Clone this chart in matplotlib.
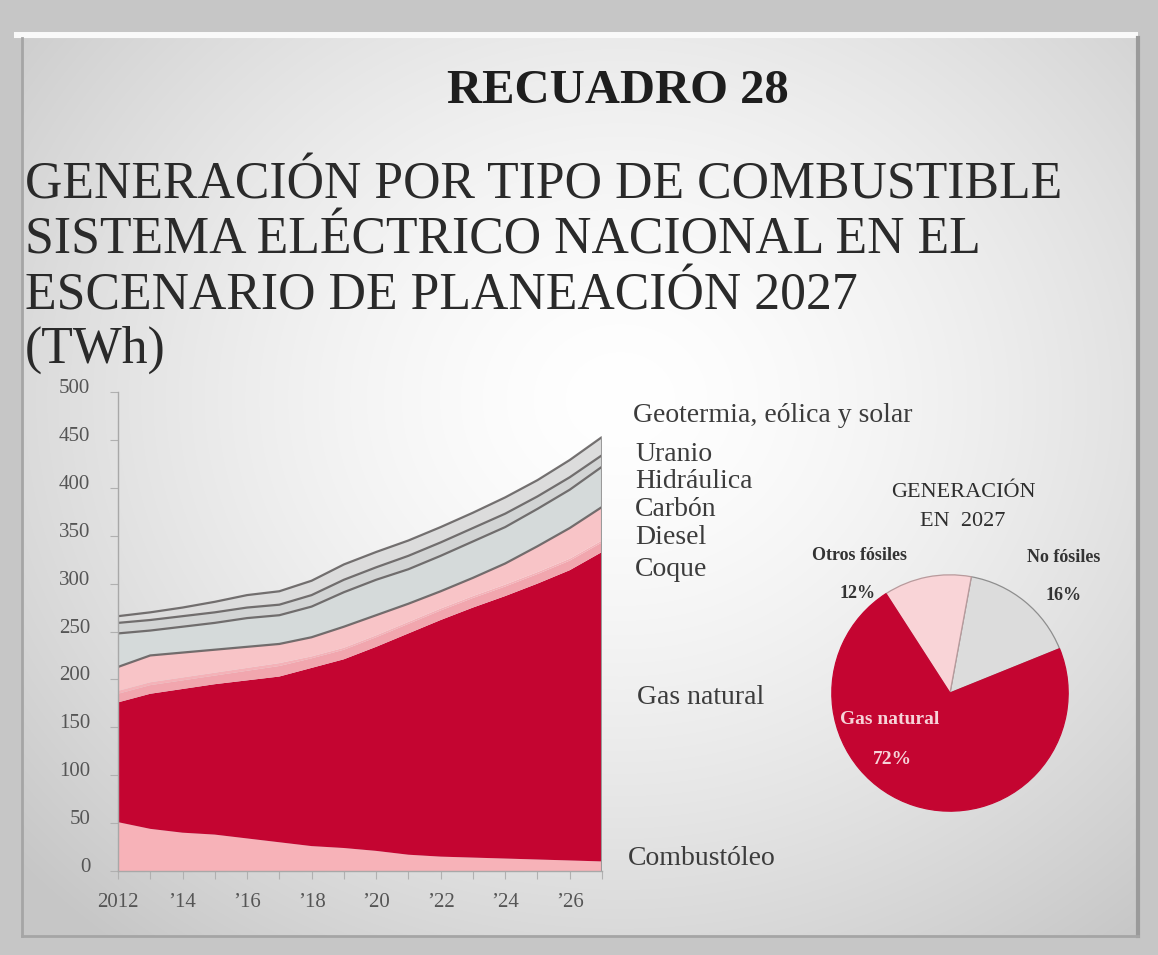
import numpy as np
import matplotlib
matplotlib.use("Agg")
import matplotlib.pyplot as plt
import matplotlib.transforms as mtransforms

# ---------------- data ----------------
years = list(range(2012, 2028))
combustoleo = [51, 44, 40, 38, 34, 30, 26, 24, 21, 17, 15, 14, 13, 12, 11, 10]
gas_natural = [125, 141, 150, 157, 165, 173, 186, 197, 213, 231, 247, 261, 274, 288, 303, 323]
coque = [9, 9, 9, 9, 10, 11, 10, 10, 10, 10, 10, 10, 10, 10, 10, 10]
diesel = [3, 3, 3, 3, 3, 3, 2, 2, 2, 2, 2, 2, 2, 2, 2, 2]
carbon = [25, 28, 26, 24, 22, 20, 20, 22, 21, 19, 18, 19, 22, 27, 32, 35]
hidraulica = [35, 26, 27, 28, 30, 30, 32, 36, 37, 36, 37, 38, 38, 39, 40, 42]
uranio = [11, 11, 11, 11, 11, 11, 12, 13, 13, 14, 14, 14, 14, 13, 13, 12]
geotermia = [7, 8, 9, 11, 13, 14, 15, 16, 16, 16, 16, 16, 17, 17, 18, 19]

series_names = ["Combustóleo", "Gas natural", "Coque", "Diesel", "Carbón",
                "Hidráulica", "Uranio", "Geotermia, eólica y solar"]

y_ticks = [0, 50, 100, 150, 200, 250, 300, 350, 400, 450, 500]
x_tick_labels = ["2012", "", "’14", "", "’16", "", "’18", "", "’20", "",
                 "’22", "", "’24", "", "’26", ""]

pie_labels = ["No fósiles", "Otros fósiles", "Gas natural"]
pie_values = [16, 12, 72]

W, H = 1158, 955
fig = plt.figure(figsize=(W / 100, H / 100), dpi=100)

def fx(px):
    return px / W

def fy(py):
    return 1 - py / H

# ---------------- background ----------------
bg = fig.add_axes([0, 0, 1, 1], zorder=-10)
yy, xx = np.mgrid[0:H, 0:W]
d = np.sqrt(((xx - 620) / 620.0) ** 2 + ((yy - 400) / 540.0) ** 2)
d = np.clip(d, 0, 1.3)
inten = 1 - 0.15 * d ** 1.5
img = np.stack([inten, inten, inten], axis=-1)
frame = (xx < 22) | (xx > 1137) | (yy < 38) | (yy > 936)
img[frame] = 0.78
img[(yy >= 33) & (yy <= 38) & (xx >= 14) & (xx <= 1137)] = 0.98
bg.imshow(img, extent=[0, W, H, 0], aspect="auto", interpolation="bilinear")
bg.plot([22, 22], [38, 936], color="#A5A5A5", lw=2)
bg.plot([1138, 1138], [38, 936], color="#9A9A9A", lw=3)
bg.plot([22, 1138], [936, 936], color="#A5A5A5", lw=2)
bg.set_xlim(0, W)
bg.set_ylim(H, 0)
bg.axis("off")

serif = ["Liberation Serif", "DejaVu Serif"]

# ---------------- titles ----------------
fig.text(fx(618), fy(91), "RECUADRO 28", family=serif, fontweight="bold",
         fontsize=35, color="#1E1E1E", ha="center", va="center")
title_lines = ["GENERACIÓN POR TIPO DE COMBUSTIBLE",
               "SISTEMA ELÉCTRICO NACIONAL EN EL",
               "ESCENARIO DE PLANEACIÓN 2027",
               "(TWh)"]
for line, ypx in zip(title_lines, [185, 240, 296, 350]):
    fig.text(fx(25), fy(ypx), line, family=serif, fontsize=37.3,
             color="#2A2A2A", ha="left", va="center")

# ---------------- area chart ----------------
ax = fig.add_axes([fx(118), fy(871), fx(602) - fx(118), (871 - 392) / H])
ax.set_facecolor("none")
colors = ["#F7B2B8", "#C40531", "#F1A6AE", "#F4B2B8", "#F8C4C7",
          "#D5DADA", "#D2D4D4", "#DCDCDC"]
data = [combustoleo, gas_natural, coque, diesel, carbon, hidraulica, uranio, geotermia]
ax.stackplot(years, *data, colors=colors, linewidth=0)
cum = np.cumsum(np.array(data, dtype=float), axis=0)
line_idx = [4, 5, 6, 7]
for i in line_idx:
    ax.plot(years, cum[i], color="#5E5A5A", lw=1.6, alpha=0.85, solid_capstyle="butt")
ax.vlines(years[-1], 0, cum[-1][-1], color="#9A9A9A", lw=1.5)

ax.set_xlim(years[0], years[-1])
ax.set_ylim(0, 500)
ax.set_yticks(y_ticks)
ax.set_yticklabels([str(v) for v in y_ticks])
ax.set_xticks(years)
ax.set_xticklabels(x_tick_labels)
for s in ["top", "right"]:
    ax.spines[s].set_visible(False)
for s in ["left", "bottom"]:
    ax.spines[s].set_color("#A8A8A8")
    ax.spines[s].set_linewidth(1.0)
ax.tick_params(axis="y", length=6, width=0.8, color="#B0B0B0", pad=14,
               labelsize=15, labelcolor="#555555")
ax.tick_params(axis="x", length=6, width=0.8, color="#B0B0B0", pad=10,
               labelsize=15, labelcolor="#555555")
for lab in ax.get_yticklabels():
    lab.set_family(serif)
    lab.set_transform(lab.get_transform() +
                      mtransforms.ScaledTranslation(0, 0.06, fig.dpi_scale_trans))
for lab in ax.get_xticklabels():
    lab.set_family(serif)

# labels on the right of the area chart
label_pos = {
    "Geotermia, eólica y solar": (633, 415),
    "Uranio": (635, 454),
    "Hidráulica": (635, 481),
    "Carbón": (635, 510),
    "Diesel": (635, 537),
    "Coque": (635, 569),
    "Gas natural": (637, 697),
    "Combustóleo": (628, 858),
}
for name in series_names:
    px, py = label_pos[name]
    fig.text(fx(px), fy(py), name, family=serif, fontsize=20,
             color="#3C3C3C", ha="left", va="center")

# ---------------- pie ----------------
pax = fig.add_axes([fx(950 - 130), fy(693 + 130), 260 / W, 260 / H])
pie_colors = ["#DCDCDC", "#F9D4D7", "#C40531"]
wedges, _ = pax.pie(pie_values, colors=pie_colors, startangle=22,
                    counterclock=True,
                    wedgeprops=dict(linewidth=0.9, edgecolor="#8E8E8E"))
wedges[2].set_edgecolor("#C40531")
wedges[1].set_edgecolor("#B89A9C")
pax.set_xlim(-1.1, 1.1)
pax.set_ylim(-1.1, 1.1)
pax.set_aspect("equal")
pax.axis("off")

fig.text(fx(963), fy(492), "GENERACIÓN", family=serif, fontsize=16,
         color="#2E2E2E", ha="center", va="center")
fig.text(fx(963), fy(522), "EN  2027", family=serif, fontsize=16,
         color="#2E2E2E", ha="center", va="center")
fig.text(fx(860), fy(556), pie_labels[1], family=serif, fontsize=13,
         fontweight="bold", color="#333333", ha="center", va="center")
fig.text(fx(858), fy(593), f"{pie_values[1]}%", family=serif, fontsize=13,
         fontweight="bold", color="#333333", ha="center", va="center")
fig.text(fx(1064), fy(557), pie_labels[0], family=serif, fontsize=13,
         fontweight="bold", color="#333333", ha="center", va="center")
fig.text(fx(1064), fy(596), f"{pie_values[0]}%", family=serif, fontsize=13,
         fontweight="bold", color="#333333", ha="center", va="center")
fig.text(fx(890), fy(719), pie_labels[2], family=serif, fontsize=14,
         fontweight="bold", color="#F6D3D8", ha="center", va="center")
fig.text(fx(892), fy(760), f"{pie_values[2]}%", family=serif, fontsize=14,
         fontweight="bold", color="#F6D3D8", ha="center", va="center")

fig.savefig("out.png", dpi=100)
